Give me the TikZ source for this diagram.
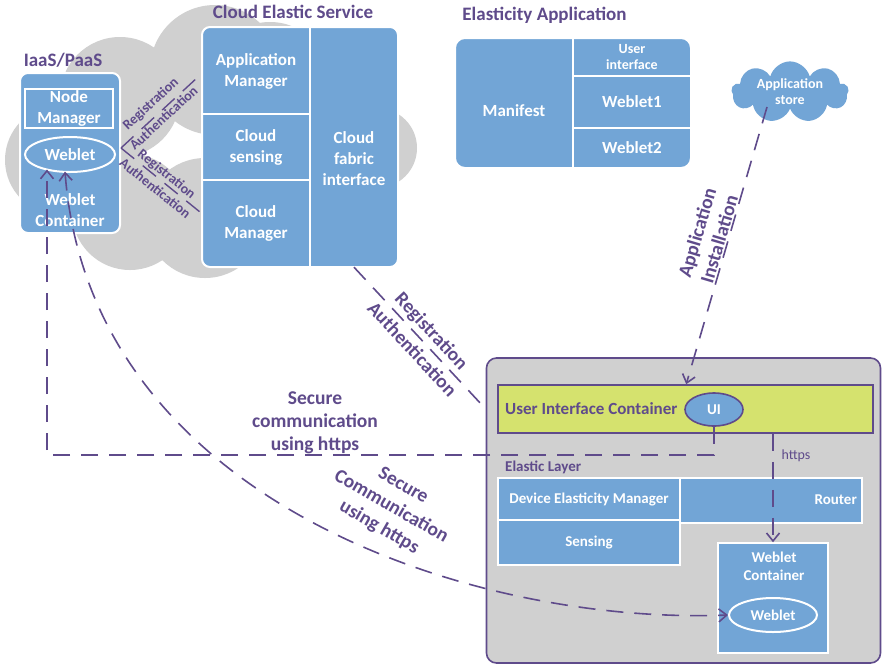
\documentclass[tikz,border=0pt]{standalone}
\usepackage{fontspec}
\setmainfont{Carlito}
\usetikzlibrary{arrows.meta,shapes.symbols,shapes.geometric,calc}

\definecolor{boxblue}{HTML}{72A5D6}
\definecolor{ink}{HTML}{5F4B8B}
\definecolor{cloudgray}{HTML}{D0D0D0}
\definecolor{uigreen}{HTML}{D5E26E}

\newcommand\fntBox{\bfseries\fontsize{17}{21}\selectfont}
\newcommand\fntTitle{\bfseries\fontsize{19}{23}\selectfont}
\newcommand\fntUic{\bfseries\fontsize{17}{21}\selectfont}
\newcommand\fntSmall{\bfseries\fontsize{14}{16}\selectfont}
\newcommand\fntMid{\bfseries\fontsize{15}{18}\selectfont}
\newcommand\fntLab{\bfseries\fontsize{19.5}{23}\selectfont}
\newcommand\fntTiny{\bfseries\fontsize{14}{15}\selectfont}

\begin{document}
\begin{tikzpicture}[x=1pt,y=-1pt,
  panel/.style={rectangle, rounded corners=8pt, fill=boxblue, draw=white, line width=2pt, inner sep=0pt},
  cell/.style={rectangle, fill=boxblue, draw=white, line width=1.5pt, inner sep=0pt, text=white, align=center, font=\fntBox},
  txtw/.style={inner sep=0pt, text=white, align=center, font=\fntBox},
  oval/.style={ellipse, fill=boxblue, draw=white, line width=2pt, inner sep=0pt, text=white, font=\fntBox},
  title/.style={inner sep=0pt, text=ink, font=\fntTitle},
  lab/.style={inner sep=1pt, text=ink, align=center, font=\fntLab},
  conn/.style={draw=ink, line width=1.6pt, dash pattern=on 17pt off 11pt},
  tip/.style={-{Straight Barb[length=8pt,width=13pt]}}
]
\fill[white] (0,0) rectangle (882,667);
\useasboundingbox (0,0) rectangle (882,667);

% grey cloud behind the IaaS/PaaS and the Cloud Elastic Service
\fill[cloudgray] (60,160) circle[radius=55pt] (120,97) circle[radius=60pt]
  (215,70) circle[radius=65pt] (270,82) circle[radius=60pt]
  (377,148) circle[radius=40pt] (205,218) circle[radius=60pt]
  (130,212) circle[radius=58pt] (300,150) circle[radius=80pt];

% IaaS/PaaS
\node[title] (iaasT) at (63,60) {IaaS/PaaS};
\node[panel, minimum width=100pt, minimum height=160pt] (iaas) at (70,153) {};
\node[cell, minimum width=88pt, minimum height=39pt] (nm) at (69,108.5) {Node\\Manager};
\node[oval, minimum width=90pt, minimum height=35pt] (wb1) at (70,154.5) {Weblet};
\node[txtw] (wc1) at (70,210) {Weblet\\Container};

% Cloud Elastic Service
\node[title] (cesT) at (293,12) {Cloud Elastic Service};
\node[panel, minimum width=196pt, minimum height=240pt] (ces) at (300,147) {};
\node[txtw, minimum width=108pt, minimum height=87pt] (am) at (256,71.5) {Application\\Manager};
\node[txtw, minimum width=108pt, minimum height=66pt] (cs) at (256,147) {Cloud\\sensing};
\node[txtw, minimum width=108pt, minimum height=87pt] (cm) at (256,223.5) {Cloud\\Manager};
\node[txtw, minimum width=88pt, minimum height=240pt] (cfi) at (354,147) {};
\node[txtw] (cfiT) at (354,159) {Cloud\\fabric\\interface};
\draw[white, line width=2pt] (am.north east) -- (cm.south east);
\draw[white, line width=2pt] (cs.north west) -- (cs.north east);
\draw[white, line width=2pt] (cs.south west) -- (cs.south east);

% Elasticity Application
\node[title] (eaT) at (544.5,15) {Elasticity Application};
\node[panel, rounded corners=10pt, minimum width=236pt, minimum height=130pt] (ea) at (573,103) {};
\node[txtw] (mf) at (514,111) {Manifest};
\node[txtw, font=\fntSmall, minimum width=118pt, minimum height=38pt] (ui1) at (632,57) {User\\interface};
\node[txtw, minimum width=118pt, minimum height=52pt] (wl1) at (632,102) {Weblet1};
\node[txtw, minimum width=118pt, minimum height=40pt] (wl2) at (632,148) {Weblet2};
\draw[white, line width=2pt] (ui1.north west) -- (wl2.south west);
\draw[white, line width=2pt] (ui1.south west) -- (ui1.south east);
\draw[white, line width=2pt] (wl1.south west) -- (wl1.south east);

% Application store
\node[cloud, cloud puffs=9, aspect=2.4, fill=boxblue, draw=none, minimum width=117pt,
  minimum height=49pt, inner sep=0pt, text=white, align=center, font=\fntSmall] (store) at (790,92) {Application\\store};

% Device
\node[rectangle, rounded corners=10pt, fill=cloudgray, draw=ink, line width=1.6pt,
  minimum width=394pt, minimum height=305pt] (dev) at (683.5,510.5) {};
\node[rectangle, fill=uigreen, draw=ink, line width=1.6pt, inner sep=0pt,
  minimum width=375pt, minimum height=48pt] (ui) at (685.5,409) {};
\node[inner sep=0pt, text=ink, font=\fntUic, anchor=west] (uiT) at (505,409) {User Interface Container};
\node[ellipse, fill=boxblue, draw=ink, line width=1.6pt, inner sep=0pt, text=white, font=\fntMid,
  minimum width=58pt, minimum height=33pt] (uiov) at (714,409.5) {UI};
\node[anchor=west, inner sep=0pt, text=ink, font=\fntMid] (elT) at (505,467) {Elastic Layer};

\node[cell, minimum width=182pt, minimum height=45pt] (rt) at (771,500.5) {};
\node[txtw, font=\fntMid, anchor=east] (rtT) at (857,500) {Router};
\node[cell, font=\fntMid, minimum width=182pt, minimum height=42pt] (dem) at (589,499) {Device Elasticity Manager};
\node[cell, font=\fntMid, minimum width=182pt, minimum height=45pt] (sens) at (589,542.5) {Sensing};
\node[cell, minimum width=110pt, minimum height=110pt] (wc) at (773,598) {};
\node[txtw, font=\fntMid] (wcT) at (774,566) {Weblet\\Container};
\node[oval, font=\fntMid, minimum width=88pt, minimum height=34pt] (wb2) at (773,615) {Weblet};

% Connectors
\coordinate (tipA) at (47,169.5);
\coordinate (tipB) at (65,171.5);
\coordinate (bendA) at (714,455);
\coordinate (bendB) at (47,455);
\coordinate (iaasR) at ($(iaas.east)+(0,-5)$);

\draw[conn, tip] (uiov.south) -- (bendA) -- (bendB) -- (tipA);
\node[lab] (sc1) at (315,423) {Secure\\communication\\using https};

\draw[conn, {Straight Barb[length=8pt,width=13pt]}-{Straight Barb[length=8pt,width=13pt]}]
  (tipB) .. controls (90,500) and (470,625) .. (wb2.west);
\node[lab, rotate=-30, font=\bfseries\fontsize{19.5}{24}\selectfont] (sc2) at (391,507) {Secure\\Communication\\using https};

\draw[conn] (cfi.south) --
  node[lab, sloped, pos=0.515, above=2pt] (rg1) {Registration}
  node[lab, sloped, pos=0.515, below=4pt] (au1) {Authentication}
  (dev.west |- ui.west);

\draw[conn, line width=1.4pt] (iaasR) --
  node[lab, font=\fntTiny, sloped, pos=0.47, above=4pt] (rg2) {Registration}
  node[lab, font=\fntTiny, sloped, pos=0.47, below=0pt] (au2) {Authentication}
  ($(am.west)+(0,2)$);
\draw[conn, line width=1.4pt] (iaasR) --
  node[lab, font=\fntTiny, sloped, pos=0.5, above=0pt] (rg3) {Registration}
  node[lab, font=\fntTiny, sloped, pos=0.5, below=3pt] (au3) {Authentication}
  ($(cm.west)+(0,-10)$);

\draw[conn, tip] ($(store.south)+(-23,-2)$) -- ($(ui.north west)+(189,0)$);
\node[lab, rotate=73.5] (ai) at (708,236) {Application\\Installation};

\draw[conn, tip] (wc.north |- ui.south) -- (wc.north);
\node[inner sep=0pt, text=ink, font=\fontsize{14}{16}\selectfont] (https) at (796,456) {https};
\end{tikzpicture}
\end{document}
